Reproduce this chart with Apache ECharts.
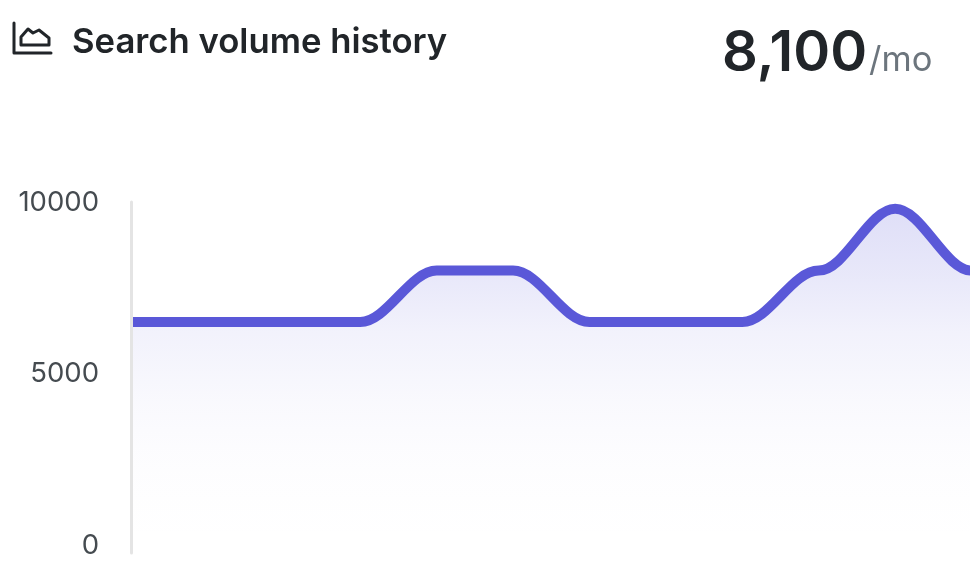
<!DOCTYPE html>
<html>
<head>
<meta charset="utf-8">
<style>html,body{margin:0;padding:0;background:#fff}#c{width:970px;height:574px}</style>
<script src="https://cdn.jsdelivr.net/npm/echarts@6/dist/echarts.min.js"></script>
</head>
<body>
<div id="c"></div>
<script>
const months = ['1','2','3','4','5','6','7','8','9','10','11','12','13'];
const volume = [6600,6600,6600,6600,8100,8100,6600,6600,6600,8100,9900,8100,8100];
const yTicks = [0,5000,10000];
const titleText = 'Search volume history';
const currentValue = '8,100';
const unitText = '/mo';

const chart = echarts.init(document.getElementById('c'), null, {renderer:'canvas'});
chart.setOption({
  animation:false,
  backgroundColor:'#fff',
  title:[
    {text:titleText,left:72,top:23,padding:0,textStyle:{fontFamily:'Inter',fontSize:34.7,fontWeight:600,color:'#212529',lineHeight:40}},
    {text:currentValue,left:722,top:22,padding:0,textStyle:{fontFamily:'Inter',fontSize:56,fontWeight:600,color:'#212529',lineHeight:64}},
    {text:unitText,left:869,top:41,padding:0,textStyle:{fontFamily:'Inter',fontSize:34.5,fontWeight:400,color:'#6c757d',lineHeight:40}}
  ],
  graphic:[
    {type:'polyline',silent:true,shape:{points:[[14,23],[14,53],[51,53]]},style:{fill:null,stroke:'#212529',lineWidth:3,lineCap:'round',lineJoin:'round'}},
    {type:'polygon',silent:true,shape:{points:[[21,45],[21,37],[28,29],[33,33],[39,30],[49,38],[49,45]]},style:{fill:null,stroke:'#212529',lineWidth:3,lineCap:'round',lineJoin:'round'}}
  ],
  grid:{left:131,width:917,top:202,height:351,containLabel:false,outerBoundsMode:'none'},
  xAxis:{type:'category',data:months,boundaryGap:false,show:false},
  yAxis:{
    type:'value',min:-134,max:10100,z:5,
    splitLine:{show:false},
    axisTick:{show:false},
    axisLine:{show:true,onZero:false,lineStyle:{color:'#e4e4e4',width:3}},
    axisLabel:{customValues:yTicks,showMinLabel:true,showMaxLabel:true,margin:32,
      formatter:function(v){return String(v);},
      fontFamily:'Inter',fontSize:27.5,color:'#454b50',verticalAlign:'bottom',lineHeight:6}
  },
  series:[{
    type:'line',z:1,data:volume,smooth:0.35,smoothMonotone:'x',showSymbol:false,symbol:'none',
    lineStyle:{color:'#5a58d8',width:10,cap:'butt'},
    areaStyle:{color:{type:'linear',x:0,y:0,x2:0,y2:1,colorStops:[
      {offset:0,color:'rgba(90,88,216,0.28)'},
      {offset:0.19,color:'rgba(90,88,216,0.2)'},
      {offset:0.36,color:'rgba(90,88,216,0.115)'},
      {offset:0.57,color:'rgba(90,88,216,0.05)'},
      {offset:0.71,color:'rgba(90,88,216,0.025)'},
      {offset:0.86,color:'rgba(90,88,216,0.008)'},
      {offset:1,color:'rgba(90,88,216,0)'}
    ]}}
  }]
});
</script>
</body>
</html>
